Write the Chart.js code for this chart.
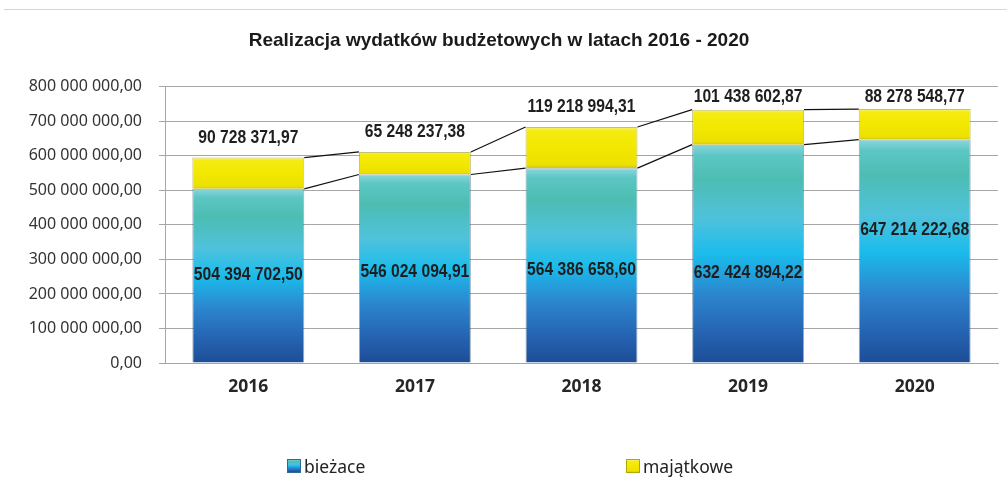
<!DOCTYPE html>
<html lang="pl">
<head>
<meta charset="utf-8">
<title>Realizacja wydatków budżetowych w latach 2016 - 2020</title>
<script src="https://cdn.jsdelivr.net/npm/chart.js@4.4.1/dist/chart.umd.min.js"></script>
<style>
html,body{margin:0;padding:0;background:#fff}
#wrap{position:relative;width:1007px;height:498px;overflow:hidden}
#topline{position:absolute;left:4px;right:0;top:9px;height:1px;background:#efe35a}
#lg{position:absolute;top:454px;left:0;width:1007px;height:24px;font:17.5px 'Noto Sans',sans-serif;color:#222}
#lg span{position:absolute;top:0;display:flex;align-items:center;white-space:nowrap;height:24px}
#lg i{display:inline-block;width:14px;height:14px;margin-right:3px;box-sizing:border-box}
</style>
</head>
<body>
<div id="wrap">
  <div id="topline"></div>
  <canvas id="c"></canvas>
  <div id="lg"></div>
</div>
<script>
/* dane: wydatki bieżące i majątkowe (zł) */
const YEARS     = ['2016', '2017', '2018', '2019', '2020'];
const BIEZACE   = [504394702.50, 546024094.91, 564386658.60, 632424894.22, 647214222.68];
const MAJATKOWE = [90728371.97, 65248237.38, 119218994.31, 101438602.87, 88278548.77];
const Y_TICKS   = [0, 100e6, 200e6, 300e6, 400e6, 500e6, 600e6, 700e6, 800e6];
const SERIES    = ['bieżace', 'majątkowe'];

/* wysokość etykiety wewnątrz słupka jako ułamek jego wysokości */
const INNER_LABEL_FRAC = [0.505, 0.484, 0.478, 0.413, 0.597];

const BLUE_STOPS = [
  [0, '#1d4d96'], [0.12, '#2460ae'], [0.3, '#2c82cc'], [0.5, '#1bbcec'],
  [0.66, '#4fc2dc'], [0.84, '#4dbdb2'], [0.95, '#5cc6c4'], [1, '#8ad6dc']
];
const YELLOW_STOPS = [
  [0, '#cfc41a'], [0.08, '#ebe000'], [0.5, '#f3e800'], [0.9, '#f5eb10'], [1, '#f8f07a']
];

function fmt(v){
  return Number(v).toFixed(2).replace('.', ',').replace(/\B(?=(\d{3})+(?!\d))/g, ' ');
}

function barGradient(stops){
  return ctx => {
    const chart = ctx.chart, y = chart.scales.y;
    if(!chart.chartArea || !y || ctx.type !== 'data') return stops[3][1];
    const i = ctx.dataIndex;
    const base = ctx.datasetIndex === 0 ? 0 : BIEZACE[i];
    const top = base + chart.data.datasets[ctx.datasetIndex].data[i];
    const g = chart.ctx.createLinearGradient(0, y.getPixelForValue(base), 0, y.getPixelForValue(top));
    stops.forEach(([o, c]) => g.addColorStop(o, c));
    return g;
  };
}

/* linie serii łączące wierzchołki słupków */
const seriesLines = {
  id: 'seriesLines',
  afterDatasetsDraw(chart){
    const { ctx } = chart;
    ctx.save();
    ctx.strokeStyle = '#111';
    ctx.lineWidth = 1.2;
    chart.data.datasets.forEach((ds, di) => {
      const els = chart.getDatasetMeta(di).data;
      for(let i = 0; i < els.length - 1; i++){
        const a = els[i], b = els[i + 1];
        ctx.beginPath();
        ctx.moveTo(a.x + a.width / 2, a.y);
        ctx.lineTo(b.x - b.width / 2, b.y);
        ctx.stroke();
      }
    });
    ctx.restore();
  }
};

/* etykiety wartości — zwężony krój (jak Arial Narrow) */
function narrowText(ctx, txt, x, y){
  ctx.save();
  ctx.translate(x, y);
  ctx.scale(0.87, 1);
  ctx.fillText(txt, 0, 0);
  ctx.restore();
}

const valueLabels = {
  id: 'valueLabels',
  afterDatasetsDraw(chart){
    const { ctx, scales: { y } } = chart;
    ctx.save();
    ctx.font = "bold 18px 'Liberation Sans', Arial, sans-serif";
    ctx.fillStyle = '#1e1e1e';
    ctx.textAlign = 'center';
    ctx.textBaseline = 'middle';
    chart.getDatasetMeta(0).data.forEach((el, i) => {
      narrowText(ctx, fmt(BIEZACE[i]), el.x, y.getPixelForValue(BIEZACE[i] * INNER_LABEL_FRAC[i]));
    });
    chart.getDatasetMeta(1).data.forEach((el, i) => {
      narrowText(ctx, fmt(MAJATKOWE[i]), el.x, Math.max(el.y - 20, chart.chartArea.top + 10));
    });
    ctx.restore();
  }
};

function gradCss(stops){
  return 'linear-gradient(to top,' + stops.map(([o, c]) => `${c} ${Math.round(o * 100)}%`).join(',') + ')';
}

function main(){
  Chart.defaults.font.family = "'Noto Sans', sans-serif";
  Chart.defaults.color = '#333';

  new Chart(document.getElementById('c'), {
    type: 'bar',
    data: {
      labels: YEARS,
      datasets: [
        { label: SERIES[0], data: BIEZACE, backgroundColor: barGradient(BLUE_STOPS),
          borderColor: 'rgba(20,70,110,0.45)', borderWidth: 1 },
        { label: SERIES[1], data: MAJATKOWE, backgroundColor: barGradient(YELLOW_STOPS),
          borderColor: 'rgba(150,140,0,0.55)', borderWidth: 1 }
      ]
    },
    plugins: [seriesLines, valueLabels],
    options: {
      responsive: true, maintainAspectRatio: false, animation: false,
      layout: { padding: { left: 0, right: 9, top: 0, bottom: 0 } },
      categoryPercentage: 1, barPercentage: 0.672,
      plugins: {
        legend: { display: false },
        tooltip: { enabled: false },
        title: {
          display: true, text: 'Realizacja wydatków budżetowych w latach 2016 - 2020',
          color: '#1a1a1a', font: { family: "'Liberation Sans', Arial, sans-serif", size: 19, weight: 'bold' },
          padding: { top: 29, bottom: 35 }
        }
      },
      scales: {
        x: {
          stacked: true,
          grid: { display: false, drawTicks: false },
          border: { color: '#a6a6a6' },
          ticks: { font: { size: 17.5, weight: 'bold' }, color: '#262626', padding: 14 },
          afterFit: s => { s.height = 135; }
        },
        y: {
          stacked: true, min: 0, max: 800e6,
          afterBuildTicks: s => { s.ticks = Y_TICKS.map(v => ({ value: v })); },
          ticks: { callback: v => fmt(v), font: { size: 16 }, color: '#333', padding: 17 },
          grid: { color: '#a6a6a6', tickColor: '#a6a6a6', tickLength: 6, lineWidth: 1 },
          border: { color: '#a6a6a6' },
          afterFit: s => { s.width = 165; }
        }
      }
    }
  });

  document.getElementById('lg').innerHTML =
    `<span style="left:287px"><i style="background:${gradCss(BLUE_STOPS)};border:1px solid #2a6aa0"></i>${SERIES[0]}</span>` +
    `<span style="left:626px"><i style="background:${gradCss(YELLOW_STOPS)};border:1px solid #b3a800"></i>${SERIES[1]}</span>`;
}

window.addEventListener('DOMContentLoaded', main);
</script>
</body>
</html>
